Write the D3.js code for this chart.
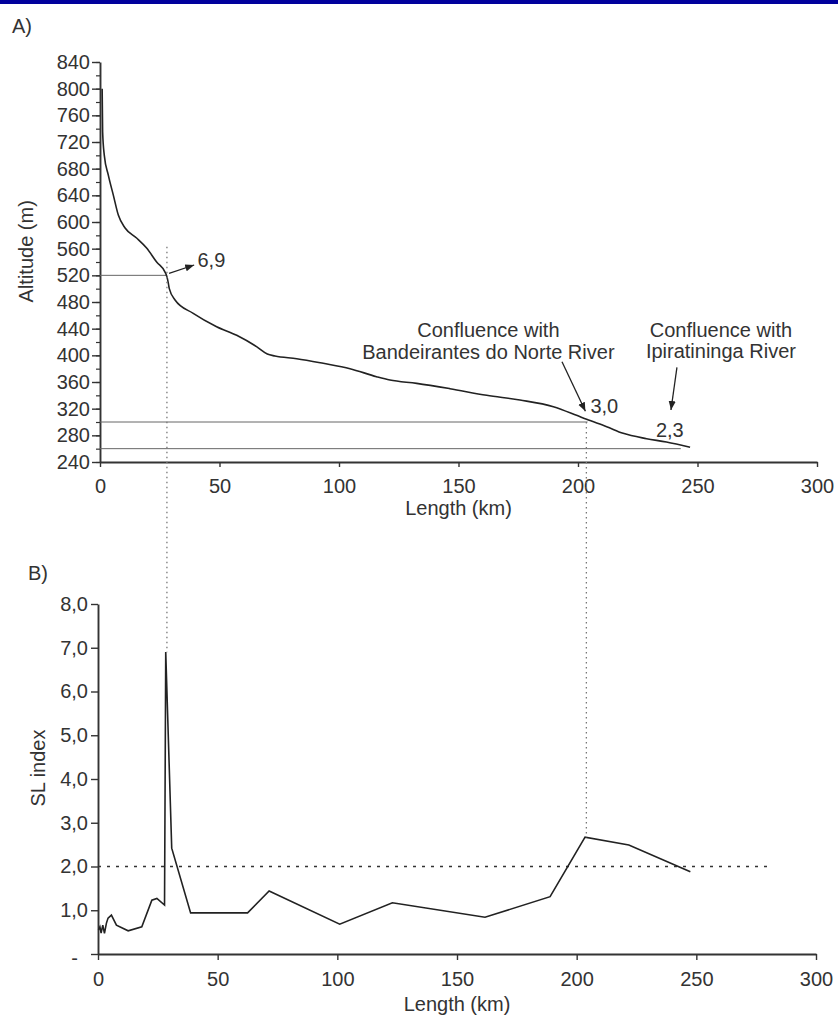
<!DOCTYPE html>
<html>
<head>
<meta charset="utf-8">
<script src="https://cdn.jsdelivr.net/npm/d3@7"></script>
<style>
  html, body { margin: 0; padding: 0; background: #fff; }
  svg { display: block; }
  text { font-family: "Liberation Sans", Arial, sans-serif; fill: #333; }
</style>
</head>
<body>
<svg id="chart" width="838" height="1018"></svg>
<script>
// ---------- Data ----------
// Panel A: longitudinal profile (distance km, altitude m)
const profileKm  = [0.9, 1.1, 1.8, 3.5, 5.6, 7.7, 10.5, 15.3, 19.5, 23.7, 27.5, 28.2, 28.6, 29.0, 31.4, 39.0, 48.8, 57.2, 65.5, 70.0, 73.2, 82.3, 93.4, 104.6, 115.7, 121.3, 132.5, 146.4, 161.8, 175.7, 189.7, 199.4, 203.6, 212.0, 218.9, 228.7, 237.0, 246.9];
const profileAlt = [800, 735, 700, 670, 640, 610, 591, 576, 561, 540, 523, 515, 508, 500, 483, 463, 443, 430, 413, 402, 399, 395, 388, 380, 368, 363, 358, 350, 340, 333, 323, 310, 304, 293, 283, 275, 270, 262];
// Panel B: SL index along the river
const slKm    = [0.2, 0.8, 1.3, 2.0, 2.7, 3.5, 4.2, 5.6, 7.7, 12.6, 18.3, 22.5, 24.6, 27.8, 28.3, 30.8, 38.7, 62.5, 71.5, 101.0, 123.0, 161.7, 188.9, 203.5, 221.8, 247.5];
const slValue = [0.55, 0.62, 0.48, 0.66, 0.47, 0.70, 0.82, 0.89, 0.66, 0.53, 0.62, 1.23, 1.27, 1.12, 6.90, 2.42, 0.94, 0.94, 1.44, 0.68, 1.17, 0.84, 1.31, 2.67, 2.49, 1.88];
// axis ticks
const lengthTicks   = [0, 50, 100, 150, 200, 250, 300];
const altitudeTicks = [240, 280, 320, 360, 400, 440, 480, 520, 560, 600, 640, 680, 720, 760, 800, 840];
const altitudeMinor = d3.range(240, 841, 20);
const slTicks       = [0, 1, 2, 3, 4, 5, 6, 7, 8];
// reference / annotation values
const refAltitudes  = [520, 300, 260];
const refEndKm      = [28, 204, 243];
const knickKm       = [28, 203.5];
const slThreshold   = 2.0;
const slThresholdEndKm = 282;

// ---------- Layout ----------
const svg = d3.select("#chart");
const ink = "#333";

svg.append("rect").attr("x", 0).attr("y", 0).attr("width", 838).attr("height", 4).attr("fill", "#00009c");

const xA = d3.scaleLinear().domain([0, 300]).range([100, 817]);
const yA = d3.scaleLinear().domain([240, 840]).range([462, 62]);
const xB = d3.scaleLinear().domain([0, 300]).range([98, 816]);
const yB = d3.scaleLinear().domain([0, 8]).range([954, 604]);

const defs = svg.append("defs");
defs.append("marker").attr("id", "arrow")
  .attr("viewBox", "0 -5 10 10").attr("refX", 10).attr("refY", 0)
  .attr("markerWidth", 9).attr("markerHeight", 9).attr("markerUnits", "userSpaceOnUse")
  .attr("orient", "auto")
  .append("path").attr("d", "M0,-4L10,0L0,4Z").attr("fill", "#222");

function styleAxis(g, fs) {
  g.selectAll(".domain").attr("stroke", ink).attr("stroke-width", 1.9);
  g.selectAll(".tick line").attr("stroke", ink).attr("stroke-width", 1.4);
  g.selectAll(".tick text").attr("fill", ink).style("font-size", fs + "px")
    .style("font-family", "'Liberation Sans', Arial, sans-serif");
}

// ---------- Panel A ----------
svg.append("text").attr("x", 12).attr("y", 33).style("font-size", "20px").text("A)");

// minor ticks
const gAminor = svg.append("g").attr("transform", `translate(${xA(0)},0)`)
  .call(d3.axisLeft(yA).tickValues(altitudeMinor).tickSize(4).tickFormat(""));
gAminor.select(".domain").remove();
gAminor.selectAll(".tick line").attr("stroke", ink).attr("stroke-width", 1.2);

const gAy = svg.append("g").attr("transform", `translate(${xA(0)},0)`)
  .call(d3.axisLeft(yA).tickValues(altitudeTicks).tickSize(8).tickSizeOuter(0).tickPadding(2));
styleAxis(gAy, 20);

const gAx = svg.append("g").attr("transform", `translate(0,${yA(240)})`)
  .call(d3.axisBottom(xA).tickValues(lengthTicks).tickSize(5).tickSizeOuter(0).tickPadding(12));
styleAxis(gAx, 20);

svg.append("text").attr("transform", `translate(33,${yA(556)}) rotate(-90)`)
  .attr("text-anchor", "middle").style("font-size", "20px").text("Altitude (m)");
svg.append("text").attr("x", xA(150)).attr("y", 515).attr("text-anchor", "middle")
  .style("font-size", "20px").text("Length (km)");

// reference horizontal lines
svg.append("g").selectAll("line").data(refAltitudes).join("line")
  .attr("x1", xA(0)).attr("x2", (d, i) => xA(refEndKm[i]))
  .attr("y1", d => yA(d)).attr("y2", d => yA(d))
  .attr("stroke", "#666").attr("stroke-width", 1);

// profile
const profile = profileKm.map((k, i) => [k, profileAlt[i]]);
svg.append("path").datum(profile)
  .attr("d", d3.line().curve(d3.curveMonotoneX).x(d => xA(d[0])).y(d => yA(d[1])))
  .attr("fill", "none").attr("stroke", "#222").attr("stroke-width", 1.6);

// annotations A
function arrow(k1, a1, k2, a2) {
  svg.append("line").attr("x1", xA(k1)).attr("y1", yA(a1)).attr("x2", xA(k2)).attr("y2", yA(a2))
    .attr("stroke", "#222").attr("stroke-width", 1.3).attr("marker-end", "url(#arrow)");
}
arrow(28.9, 523, 39.4, 535.5);
svg.append("text").attr("x", xA(40.8)).attr("y", yA(532.5)).style("font-size", "20px").text("6,9");

svg.append("text").attr("x", xA(162.5)).attr("y", yA(427.5)).attr("text-anchor", "middle")
  .style("font-size", "20px").text("Confluence with");
svg.append("text").attr("x", xA(162.5)).attr("y", yA(394.5)).attr("text-anchor", "middle")
  .style("font-size", "20px").text("Bandeirantes do Norte River");
arrow(193.3, 390.5, 203.1, 316);
svg.append("text").attr("x", xA(205.2)).attr("y", yA(313.5)).style("font-size", "20px").text("3,0");

svg.append("text").attr("x", xA(259.8)).attr("y", yA(428)).attr("text-anchor", "middle")
  .style("font-size", "20px").text("Confluence with");
svg.append("text").attr("x", xA(259.8)).attr("y", yA(396)).attr("text-anchor", "middle")
  .style("font-size", "20px").text("Ipiratininga River");
arrow(241.4, 382, 238.9, 318);
svg.append("text").attr("x", xA(232.6)).attr("y", yA(278)).style("font-size", "20px").text("2,3");

// ---------- Panel B ----------
svg.append("text").attr("x", 28).attr("y", 580).style("font-size", "20px").text("B)");

const gBy = svg.append("g").attr("transform", `translate(${xB(0)},0)`)
  .call(d3.axisLeft(yB).tickValues(slTicks).tickSize(7).tickSizeOuter(0).tickPadding(3)
    .tickFormat(d => d === 0 ? "-" : d.toFixed(1).replace(".", ",")));
styleAxis(gBy, 20);
gBy.selectAll(".tick text").filter(d => d === 0).attr("dx", "-10").attr("dy", "0.5em");

const gBx = svg.append("g").attr("transform", `translate(0,${yB(0)})`)
  .call(d3.axisBottom(xB).tickValues(lengthTicks).tickSize(6).tickSizeOuter(0).tickPadding(12));
styleAxis(gBx, 20);

svg.append("text").attr("transform", `translate(45,${yB(4.25)}) rotate(-90)`)
  .attr("text-anchor", "middle").style("font-size", "20px").text("SL index");
svg.append("text").attr("x", xB(150)).attr("y", 1011).attr("text-anchor", "middle")
  .style("font-size", "20px").text("Length (km)");

// threshold dashed line
svg.append("line").attr("x1", xB(0)).attr("x2", xB(slThresholdEndKm))
  .attr("y1", yB(slThreshold)).attr("y2", yB(slThreshold))
  .attr("stroke", "#333").attr("stroke-width", 1.3).attr("stroke-dasharray", "3,6");

// SL line
const sl = slKm.map((k, i) => [k, slValue[i]]);
svg.append("path").datum(sl)
  .attr("d", d3.line().x(d => xB(d[0])).y(d => yB(d[1])))
  .attr("fill", "none").attr("stroke", "#222").attr("stroke-width", 1.6);

// ---------- Vertical dotted links between panels ----------
const linkTopAlt = [563, 300];
const linkBottomSL = [6.9, 2.67];
svg.append("g").selectAll("line").data(knickKm).join("line")
  .attr("x1", d => xA(d)).attr("x2", d => xA(d))
  .attr("y1", (d, i) => yA(linkTopAlt[i])).attr("y2", (d, i) => yB(linkBottomSL[i]))
  .attr("stroke", "#777").attr("stroke-width", 1.3).attr("stroke-dasharray", "1.5,3.5");
</script>
</body>
</html>
